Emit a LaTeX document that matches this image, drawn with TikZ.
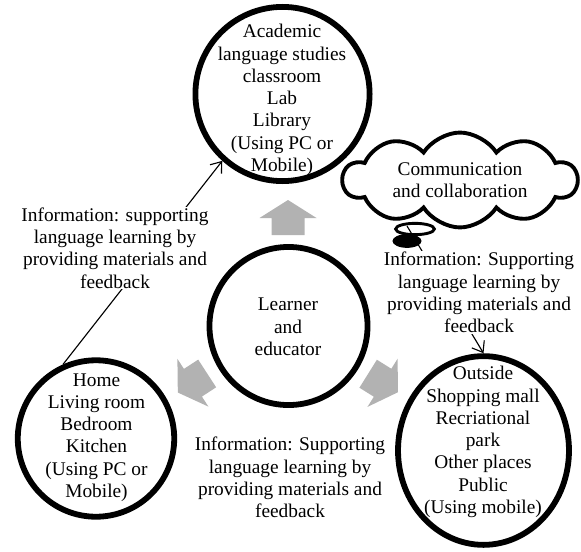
\documentclass[tikz,border=0pt]{standalone}
\usepackage{fontspec}
\setmainfont{Liberation Serif}
\usetikzlibrary{shapes,arrows.meta}

\begin{document}
\begin{tikzpicture}[x=0.62pt,y=-0.62pt]
  \tikzstyle{every node}+=[font=\fontsize{12}{13.8}\selectfont, align=center]
  \tikzstyle{place}=[draw, line width=3.6pt, circle, inner sep=0pt]
  \tikzstyle{info}=[fill=white, inner sep=0.5pt]
  \tikzstyle{conn}=[line width=0.7pt, -{Straight Barb[length=6pt,width=9pt]}]
  \useasboundingbox (0,0) rectangle (581,551);

  % places
  \node[place, minimum size=108pt] (top) at (282.5,94) {};
  \node[place, minimum size=98pt] (mid) at (288.5,326) {};
  \node[place, minimum size=97pt] (left) at (96,438.5) {};
  \node[place, ellipse, minimum width=106pt, minimum height=117pt] (right) at (483.5,450.5) {};

  \node (topTxt) at (282,100) {Academic\\language studies\\classroom\\Lab\\Library\\(Using PC or\\Mobile)};
  \node (midTxt) at (288,327) {Learner\\and\\educator};
  \node (leftTxt) at (96.5,437.5) {Home\\Living room\\Bedroom\\Kitchen\\(Using PC or\\Mobile)};
  \node (rightTxt) at (483,442) {Outside\\Shopping mall\\Recriational\\park\\Other places\\Public\\(Using mobile)};

  % grey block arrows
  \foreach \x/\y/\a in {288/217.5/90, 192.5/383/213, 383/383/-32}
    \fill[black!30, shift={(\x,\y)}, rotate=\a] (-17.5,-16.5) -- (-0.5,-16.5) -- (-0.5,-28.5)
      -- (17.5,0) -- (-0.5,28.5) -- (-0.5,16.5) -- (-17.5,16.5) -- cycle;

  % cloud
  \node[cloud, draw, fill=white, line width=2.4pt, cloud puffs=10, cloud puff arc=115, aspect=2.9,
        minimum width=145pt, minimum height=51pt, inner sep=0pt] (comm) at (460,180)
        {Communication\\and collaboration};
  \node[ellipse, draw, fill=white, line width=1.8pt, minimum width=24pt, minimum height=7pt, inner sep=0pt] (bubA) at (415,229) {};
  \node[ellipse, fill=black, minimum width=18pt, minimum height=8.5pt, inner sep=0pt] (bubB) at (407,241) {};
  \coordinate (bubTail) at (407,226);

  \draw[conn] (left.114) -- (top.228);
  \draw[conn] (bubTail) -- (right.north);

  \node[info] (infoL) at (115,248) {Information: supporting\\language learning by\\providing materials and\\feedback};
  \node[info] (infoR) at (479,292.5) {Information: Supporting\\language learning by\\providing materials and\\feedback};
  \node (infoB) at (290,477.5) {Information: Supporting\\language learning by\\providing materials and\\feedback};
\end{tikzpicture}
\end{document}
